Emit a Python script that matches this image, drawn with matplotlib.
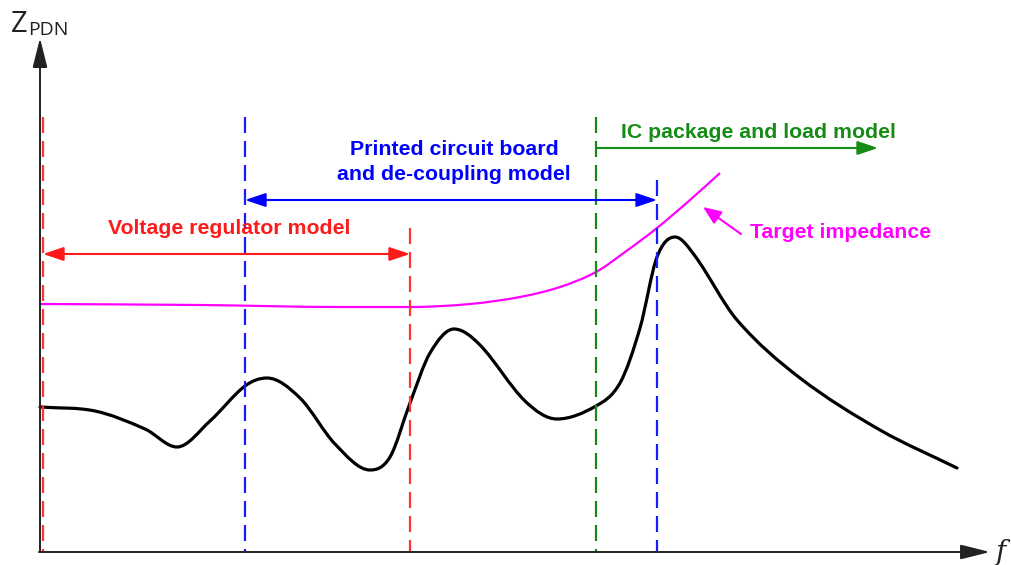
"""
PDN impedance schematic: Z_PDN vs f with the frequency ranges covered
by the regulator, board/decoupling and package/load models.
"""
import matplotlib
matplotlib.use("Agg")
import matplotlib.pyplot as plt
from matplotlib.path import Path
from matplotlib.patches import PathPatch

# ---------------------------------------------------------------------------
# Data (drawing units: x = frequency position, y = impedance, y grows downward)
# ---------------------------------------------------------------------------
X_MAX, Y_MAX = 1011, 565

zpdn_x = [40, 95, 145, 177, 210, 245, 267, 300, 335, 370, 390, 410, 430,
          454, 480, 525, 557, 596, 620, 640, 657, 675, 695, 737, 800,
          880, 957]
zpdn_y = [407, 411, 429, 447, 421, 386, 378, 398, 444, 470, 457, 403, 353,
          329, 345, 401, 419, 406, 383, 328, 257, 237, 256, 320, 378,
          430, 468]

target_x = [40, 200, 340, 410, 470, 520, 560, 596, 625, 657, 690, 720]
target_y = [304, 305, 307, 307, 304, 297, 287, 272, 252, 228, 200, 173]

# dashed range markers
markers_x = [43, 245, 410, 596, 657]
markers_top = [117, 117, 228, 117, 180]
markers_col = ["#ff3333", "#1a1aff", "#ff3333", "#1a8a1a", "#1a1aff"]
AXIS_Y = 553

# range arrows: (x0, x1, y, style, colour, label, label_x, label_y)
ranges = [
    (43, 410, 254, "<|-|>", "#ff1a1a", "Voltage regulator model", 229, 228),
    (245, 657, 200, "<|-|>", "#0000ff", "Printed circuit board\nand de-coupling model", 454, 162),
    (596, 878, 148, "-|>", "#158c15", "IC package and load model", 758, 133),
]

MAGENTA = "#ff00ff"
FONT = "Liberation Sans"
FS = 15.3


def smooth_path(xs, ys):
    """Cubic Hermite through the read points (flat at turning points),
    handed to matplotlib as Bezier path segments."""
    n = len(xs)
    sec = [(ys[i + 1] - ys[i]) / (xs[i + 1] - xs[i]) for i in range(n - 1)]
    slopes = [sec[0]]
    for i in range(1, n - 1):
        if sec[i - 1] * sec[i] <= 0:
            slopes.append(0.0)
        else:
            slopes.append((ys[i + 1] - ys[i - 1]) / (xs[i + 1] - xs[i - 1]))
    slopes.append(sec[-1])

    verts, codes = [(xs[0], ys[0])], [Path.MOVETO]
    for i in range(n - 1):
        h = (xs[i + 1] - xs[i]) / 3
        verts += [(xs[i] + h, ys[i] + slopes[i] * h),
                  (xs[i + 1] - h, ys[i + 1] - slopes[i + 1] * h),
                  (xs[i + 1], ys[i + 1])]
        codes += [Path.CURVE4] * 3
    return Path(verts, codes)


# ---------------------------------------------------------------------------
# Plot
# ---------------------------------------------------------------------------
fig = plt.figure(figsize=(10.11, 5.65), dpi=100)
ax = fig.add_axes([0, 0, 1, 1])
ax.set_xlim(0, X_MAX)
ax.set_ylim(Y_MAX, 0)
ax.axis("off")

# axes with arrow heads
axis_kw = dict(arrowstyle="-|>,head_length=1.8,head_width=0.45",
               color="#222222", lw=1.4, shrinkA=0, shrinkB=0, mutation_scale=10)
ax.annotate("", xy=(40, 38), xytext=(40, 552), arrowprops=axis_kw)
ax.annotate("", xy=(990, 552), xytext=(39, 552), arrowprops=axis_kw)
ax.text(11, 32, "Z", fontsize=21, family="Open Sans", color="#222222", va="baseline")
ax.text(28, 35, "PDN", fontsize=14, family="Open Sans", color="#222222", va="baseline")
ax.text(996, 552, "f", fontsize=20, family="DejaVu Serif", style="italic",
        color="#222222", va="center")

# dashed range markers
for x, top, c in zip(markers_x, markers_top, markers_col):
    ax.plot([x, x], [top, AXIS_Y], color=c, lw=1.6, dashes=(7.2, 3.6))

# model range arrows + labels
for x0, x1, y, style, c, label, lx, ly in ranges:
    ax.annotate("", xy=(x1, y), xytext=(x0, y),
                arrowprops=dict(arrowstyle=f"{style},head_length=1.25,head_width=0.42",
                                color=c, lw=1.5, shrinkA=0, shrinkB=0,
                                mutation_scale=10))
    ax.text(lx, ly, label, color=c, fontsize=FS, fontweight="bold",
            family=FONT, ha="center", va="center", linespacing=1.45)

# target impedance
ax.add_patch(PathPatch(smooth_path(target_x, target_y), fill=False,
                       edgecolor=MAGENTA, lw=1.6))
ax.annotate("", xy=(703, 207), xytext=(741, 234),
            arrowprops=dict(arrowstyle="-|>,head_length=1.1,head_width=0.45",
                            color=MAGENTA, lw=1.5, shrinkA=0, shrinkB=0,
                            mutation_scale=10))
ax.text(750, 233, "Target impedance", color=MAGENTA, fontsize=FS,
        fontweight="bold", family=FONT, ha="left", va="center")

# Z_PDN curve
ax.add_patch(PathPatch(smooth_path(zpdn_x, zpdn_y), fill=False,
                       edgecolor="black", lw=2.3, joinstyle="round",
                       capstyle="round"))

fig.savefig("out.png", dpi=100)
